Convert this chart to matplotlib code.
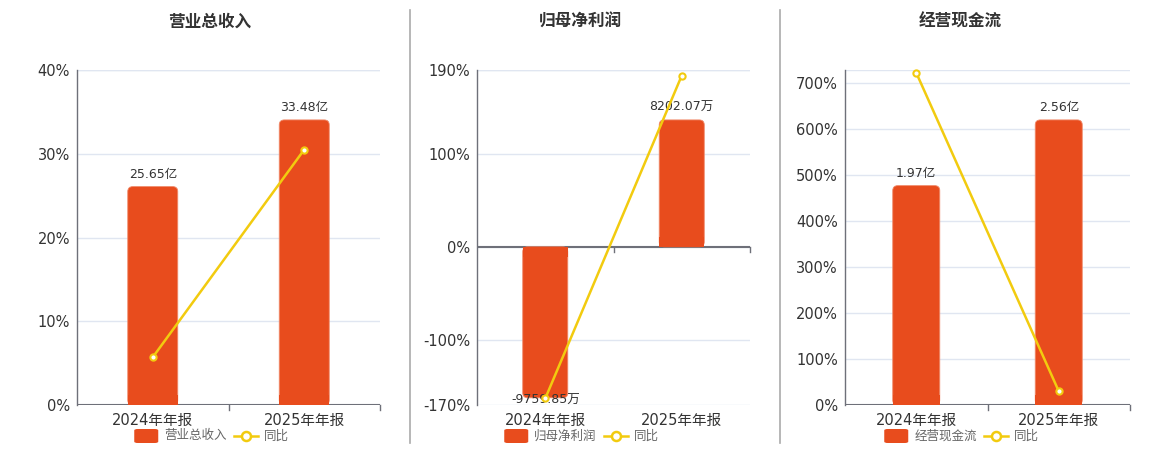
import numpy as np
import matplotlib
matplotlib.use('Agg')
import matplotlib.pyplot as plt
from matplotlib.patches import FancyBboxPatch, Rectangle
from matplotlib.lines import Line2D

plt.rcParams['font.family'] = ['DejaVu Sans', 'Noto Sans CJK SC']

# ---------- данные ----------
categories = ['2024年年报', '2025年年报']

titles = ['营业总收入', '归母净利润', '经营现金流']
bar_values = [[25.65, 33.48], [-9759.85, 8202.07], [1.97, 2.56]]
bar_labels = [['25.65亿', '33.48亿'], ['-9759.85万', '8202.07万'], ['1.97亿', '2.56亿']]
yoy_values = [[5.7, 30.5], [-163.0, 184.0], [722.0, 30.0]]

y_ticks = [[0, 10, 20, 30, 40],
           [-170, -100, 0, 100, 190],
           [0, 100, 200, 300, 400, 500, 600, 700]]
y_limits = [(0, 40), (-170, 190), (0, 728)]

BAR_COLOR = '#E84C1D'
LINE_COLOR = '#F2CB0F'
AXIS_COLOR = '#6E7079'
GRID_COLOR = '#E0E6F1'
TEXT_COLOR = '#333333'

# позиции осей в пикселях (left, right), общая высота
axes_px = [(77, 380), (477, 750), (845, 1130)]
centers_px = [210, 580, 960]
W, H = 1160, 450
TOP, BOTTOM = 70, 405

fig = plt.figure(figsize=(W / 100, H / 100), dpi=100, facecolor='white')

# вертикальные разделители
for xs in (410, 780):
    fig.add_artist(Line2D([xs / W, xs / W], [1 - 10 / H, 1 - 443 / H],
                          color='#AAAAAA', linewidth=1.2))

x = np.arange(len(categories))
BAR_W = 0.33
MAX_FRAC = 0.851  # доля высоты, куда приходится самый высокий столбец

for i in range(3):
    l, r = axes_px[i]
    ax = fig.add_axes([l / W, 1 - BOTTOM / H, (r - l) / W, (BOTTOM - TOP) / H])
    ax2 = ax.twinx()

    ymin, ymax = y_limits[i]
    ax.set_ylim(ymin, ymax)
    ax.set_xlim(-0.5, len(categories) - 0.5)

    # шкала столбцов: ноль совпадает с нулём процентов
    f0 = (0 - ymin) / (ymax - ymin)
    bmax = max(bar_values[i])
    span = bmax / (MAX_FRAC - f0)
    blo = -f0 * span
    ax2.set_ylim(blo, blo + span)
    ax2.set_xlim(-0.5, len(categories) - 0.5)

    # сетка
    for t in y_ticks[i]:
        ax.axhline(t, color=GRID_COLOR, linewidth=1, zorder=0)
    ax.axhline(ymax, color=GRID_COLOR, linewidth=1, zorder=0)

    # столбцы со скруглёнными внешними углами
    fig.canvas.draw()
    bb = ax2.get_window_extent()
    px_x = bb.width / (len(categories))
    px_y = bb.height / span
    rad_px = 5
    for xi, v in zip(x, bar_values[i]):
        x0 = xi - BAR_W / 2
        y0, hgt = (0, v) if v >= 0 else (v, -v)
        rs = rad_px / px_x
        p = FancyBboxPatch((x0, y0), BAR_W, hgt,
                           boxstyle=f"round,pad=0,rounding_size={rs}",
                           mutation_aspect=px_x / px_y,
                           facecolor=BAR_COLOR, edgecolor='#F08A6A', linewidth=0.6, zorder=2)
        ax2.add_patch(p)
        # прямой угол у нулевой линии
        sq_h = min(hgt / 2, rad_px * 2 / px_y)
        sq_y = 0 if v >= 0 else -sq_h
        ax2.add_patch(Rectangle((x0, sq_y), BAR_W, sq_h, facecolor=BAR_COLOR,
                                edgecolor='none', zorder=2.1))

    # подписи столбцов
    for xi, v, lab in zip(x, bar_values[i], bar_labels[i]):
        if v >= 0:
            ax2.annotate(lab, (xi, v), xytext=(0, 4), textcoords='offset points',
                         ha='center', va='bottom', fontsize=9, color=TEXT_COLOR, zorder=3)
        else:
            ax2.annotate(lab, (xi, v), xytext=(0, 3), textcoords='offset points',
                         ha='center', va='top', fontsize=9, color=TEXT_COLOR, zorder=3)

    # линия "同比"
    ax_line = ax.twinx()
    ax_line.set_ylim(ymin, ymax)
    ax_line.plot(x, yoy_values[i], color=LINE_COLOR, linewidth=1.8, marker='o',
                 markersize=4.5, markerfacecolor='white', markeredgecolor=LINE_COLOR,
                 markeredgewidth=1.5, zorder=5, clip_on=False)
    ax_line.axis('off')

    # оформление осей
    ax.set_yticks(y_ticks[i])
    ax.set_yticklabels([f'{t}%' for t in y_ticks[i]])
    ax.tick_params(axis='y', length=0, labelsize=10.5, labelcolor=TEXT_COLOR, pad=5)
    ax.set_xticks(x)
    ax.set_xticklabels(categories)
    ax.tick_params(axis='x', length=0, labelsize=10.5, labelcolor=TEXT_COLOR, pad=6)
    for s in ('top', 'right', 'bottom'):
        ax.spines[s].set_visible(False)
    ax.spines['left'].set_color(AXIS_COLOR)
    ax.spines['left'].set_linewidth(1)
    ax2.axis('off')

    # ось X на нуле с делениями между категориями
    ax.axhline(0, color=AXIS_COLOR, linewidth=1.5, zorder=4)
    tick_h = (ymax - ymin) * 5 / (BOTTOM - TOP)
    for bx in np.arange(-0.5, len(categories), 1.0):
        if bx == -0.5:
            continue
        ax.plot([bx, bx], [0, -tick_h], color=AXIS_COLOR, linewidth=1, zorder=4, clip_on=False)

    # заголовок
    fig.text(centers_px[i] / W, 1 - 22 / H, titles[i], ha='center', va='center',
             fontsize=12, fontweight='bold', color=TEXT_COLOR)

    # легенда
    cx = centers_px[i]
    ly = 1 - 436 / H
    lw = len(titles[i]) * 11.5
    total = 24 + 6 + lw + 12 + 24 + 6 + 22
    sx = cx - total / 2
    fig.add_artist(FancyBboxPatch((sx / W, ly - 7 / H), 24 / W, 14 / H,
                                  boxstyle='round,pad=0,rounding_size=0.003',
                                  transform=fig.transFigure, facecolor=BAR_COLOR,
                                  edgecolor='none'))
    fig.text((sx + 30) / W, ly, titles[i], ha='left', va='center', fontsize=9, color='#666666')
    lx = sx + 30 + lw + 12
    fig.add_artist(Line2D([lx / W, (lx + 24) / W], [ly, ly], color=LINE_COLOR, linewidth=1.8))
    fig.add_artist(Line2D([(lx + 12) / W], [ly], marker='o', markersize=6.5,
                          markerfacecolor='white', markeredgecolor=LINE_COLOR,
                          markeredgewidth=1.8))
    fig.text((lx + 30) / W, ly, '同比', ha='left', va='center', fontsize=9, color='#666666')

plt.savefig('out.png', dpi=100, facecolor='white')
plt.close()
